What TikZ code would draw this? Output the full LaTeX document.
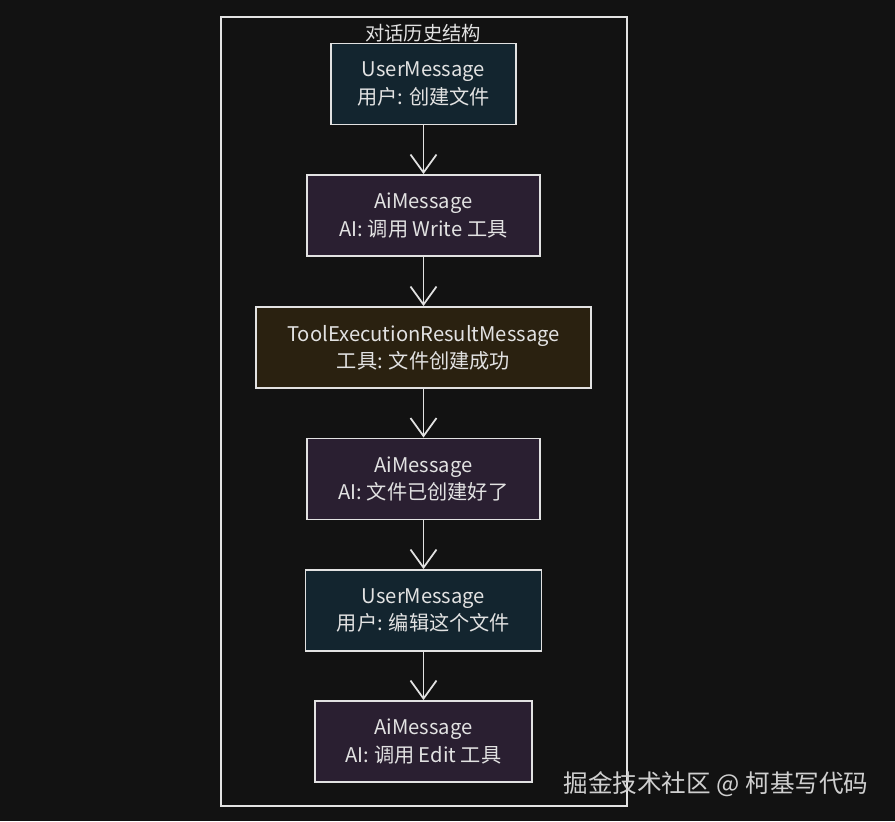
\documentclass[tikz,border=0pt]{standalone}
\usepackage{fontspec}
\setmainfont{Noto Sans CJK SC}
\usetikzlibrary{arrows.meta}
\definecolor{bgdark}{HTML}{121212}
\definecolor{lineclr}{HTML}{E2E2E2}
\definecolor{userfill}{HTML}{13252F}
\definecolor{aifill}{HTML}{2A1F31}
\definecolor{toolfill}{HTML}{2A2110}
\definecolor{markclr}{HTML}{CFCFCF}
\tikzset{
  msg/.style={draw=lineclr,line width=1.1pt,align=center,minimum height=1.62cm,
              inner sep=2pt,text=lineclr,font=\fontsize{11.5}{15.5}\selectfont},
  usermsg/.style={msg,fill=userfill},
  aimsg/.style={msg,fill=aifill},
  toolmsg/.style={msg,fill=toolfill},
  arrow/.style={-{Straight Barb[length=3.6mm,width=5.2mm]},line width=1pt,draw=lineclr},
  frame/.style={draw=lineclr,line width=1.1pt}
}

\begin{document}
\begin{tikzpicture}[x=0.02cm,y=-0.02cm]
  % Dark canvas and outer frame.
  \fill[bgdark] (0,0) rectangle (895,821);
  \draw[frame] (221,17) rectangle (627,806);
  \node[text=lineclr,font=\fontsize{11}{13}\selectfont] (title) at (423,33) {对话历史结构};

  % Message chain, top to bottom.
  \node[usermsg,minimum width=3.7cm] (u1) at (423.5,84) {UserMessage\\用户: 创建文件};
  \node[aimsg,minimum width=4.66cm] (a1) at (423.5,215.5) {AiMessage\\AI: 调用 Write 工具};
  \node[toolmsg,minimum width=6.7cm] (t1) at (423.5,347.5) {ToolExecutionResultMessage\\工具: 文件创建成功};
  \node[aimsg,minimum width=4.66cm] (a2) at (423.5,479) {AiMessage\\AI: 文件已创建好了};
  \node[usermsg,minimum width=4.72cm] (u2) at (423.5,610.5) {UserMessage\\用户: 编辑这个文件};
  \node[aimsg,minimum width=4.34cm] (a3) at (423.5,741.5) {AiMessage\\AI: 调用 Edit 工具};

  \foreach \u/\v in {u1/a1,a1/t1,t1/a2,a2/u2,u2/a3}
    \draw[arrow] (\u) -- (\v);

  \node[text=markclr,font=\fontsize{14}{16}\selectfont] (mark) at (716,784)
    {掘金技术社区 @ 柯基写代码};
\end{tikzpicture}
\end{document}
